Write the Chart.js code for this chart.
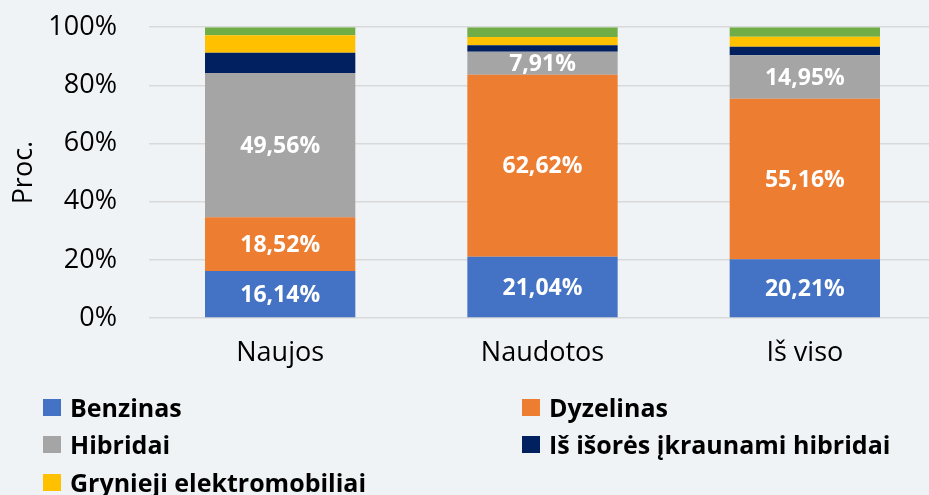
<!DOCTYPE html>
<html lang="lt">
<head>
<meta charset="utf-8">
<script src="https://cdn.jsdelivr.net/npm/chart.js@4/dist/chart.umd.min.js"></script>
<style>
    html, body { margin: 0; padding: 0; background: #F0F3F6; overflow: hidden; }
    body { width: 929px; height: 495px; position: relative; font-family: 'Open Sans', sans-serif; }
    #wrap { position: absolute; left: 0; top: -21px; width: 936px; height: 399px; }
    #legend { position: absolute; left: 0; top: 0; width: 929px; height: 495px; pointer-events: none; }
    .item { position: absolute; display: flex; align-items: center; font-weight: bold; font-size: 25px; color: #000; white-space: nowrap; }
    .item span.box { display: inline-block; width: 18px; height: 17px; margin-right: 9px; }
</style>
</head>
<body>
<div id="wrap"><canvas id="chart"></canvas></div>
<div id="legend"></div>
<script>
const categories = ['Naujos', 'Naudotos', 'Iš viso'];

const benzinas = [16.14, 21.04, 20.21];
const dyzelinas = [18.52, 62.62, 55.16];
const hibridai = [49.56, 7.91, 14.95];
const iskraunami = [7.0, 2.2, 3.0];
const elektromobiliai = [6.05, 2.9, 3.4];
const kita = [2.73, 3.29, 3.28];

const yTicks = [0, 20, 40, 60, 80, 100];

// legend rows/columns as in the picture
const legendPos = [
    { left: 43, top: 407 },
    { left: 522, top: 407 },
    { left: 43, top: 444 },
    { left: 522, top: 444 },
    { left: 43, top: 482 }
];

const fmt = v => v.toFixed(2).replace('.', ',') + '%';

const barLabels = {
    id: 'barLabels',
    afterDatasetsDraw(chart) {
        const ctx = chart.ctx;
        ctx.save();
        ctx.font = 'bold 23px "Open Sans"';
        ctx.fillStyle = '#FFFFFF';
        ctx.textAlign = 'center';
        ctx.textBaseline = 'middle';
        chart.data.datasets.forEach((ds, i) => {
            if (!ds.showLabel) return;
            chart.getDatasetMeta(i).data.forEach((bar, j) => {
                ctx.fillText(fmt(ds.data[j]), bar.x, (bar.y + bar.base) / 2 + 1);
            });
        });
        ctx.restore();
    }
};

const chart = new Chart(document.getElementById('chart'), {
    type: 'bar',
    data: {
        labels: categories,
        datasets: [
            { label: 'Benzinas', data: benzinas, backgroundColor: '#4472C4', showLabel: true },
            { label: 'Dyzelinas', data: dyzelinas, backgroundColor: '#ED7D31', showLabel: true },
            { label: 'Hibridai', data: hibridai, backgroundColor: '#A5A5A5', showLabel: true },
            { label: 'Iš išorės įkraunami hibridai', data: iskraunami, backgroundColor: '#002060' },
            { label: 'Grynieji elektromobiliai', data: elektromobiliai, backgroundColor: '#FFC000' },
            { label: 'Kita', data: kita, backgroundColor: '#70AD47', hideLegend: true }
        ]
    },
    options: {
        responsive: true,
        maintainAspectRatio: false,
        animation: false,
        layout: { padding: { top: 5, left: 0, right: 0, bottom: 0 } },
        datasets: {
            bar: { barPercentage: 0.573, categoryPercentage: 1, borderWidth: 0 }
        },
        plugins: {
            legend: { display: false },
            tooltip: { enabled: false }
        },
        scales: {
            x: {
                stacked: true,
                grid: { display: false, drawTicks: false },
                border: { display: false },
                ticks: { color: '#000', font: { family: 'Open Sans', size: 27 }, padding: 19 },
                afterFit: s => { s.height = 60; }
            },
            y: {
                stacked: true,
                min: 0,
                max: 100,
                afterBuildTicks: s => { s.ticks = yTicks.map(v => ({ value: v })); },
                grid: { color: '#D9D9D9', lineWidth: 1.5, drawTicks: false },
                border: { display: false },
                ticks: { color: '#000', font: { family: 'Open Sans', size: 27 }, padding: 32, callback: v => v + '%' },
                title: { display: true, text: 'Proc.', color: '#000', font: { family: 'Open Sans', size: 27 }, padding: { top: 8, bottom: 0 } },
                afterFit: s => { s.width = 149; }
            }
        }
    },
    plugins: [barLabels]
});

const legend = document.getElementById('legend');
chart.data.datasets.filter(ds => !ds.hideLegend).forEach((ds, i) => {
    const p = legendPos[i];
    const item = document.createElement('div');
    item.className = 'item';
    item.style.left = p.left + 'px';
    item.style.top = (p.top - 18) + 'px';
    item.style.height = '36px';
    item.innerHTML = '<span class="box" style="background:' + ds.backgroundColor + '"></span>' + ds.label;
    legend.appendChild(item);
});
</script>
</body>
</html>
